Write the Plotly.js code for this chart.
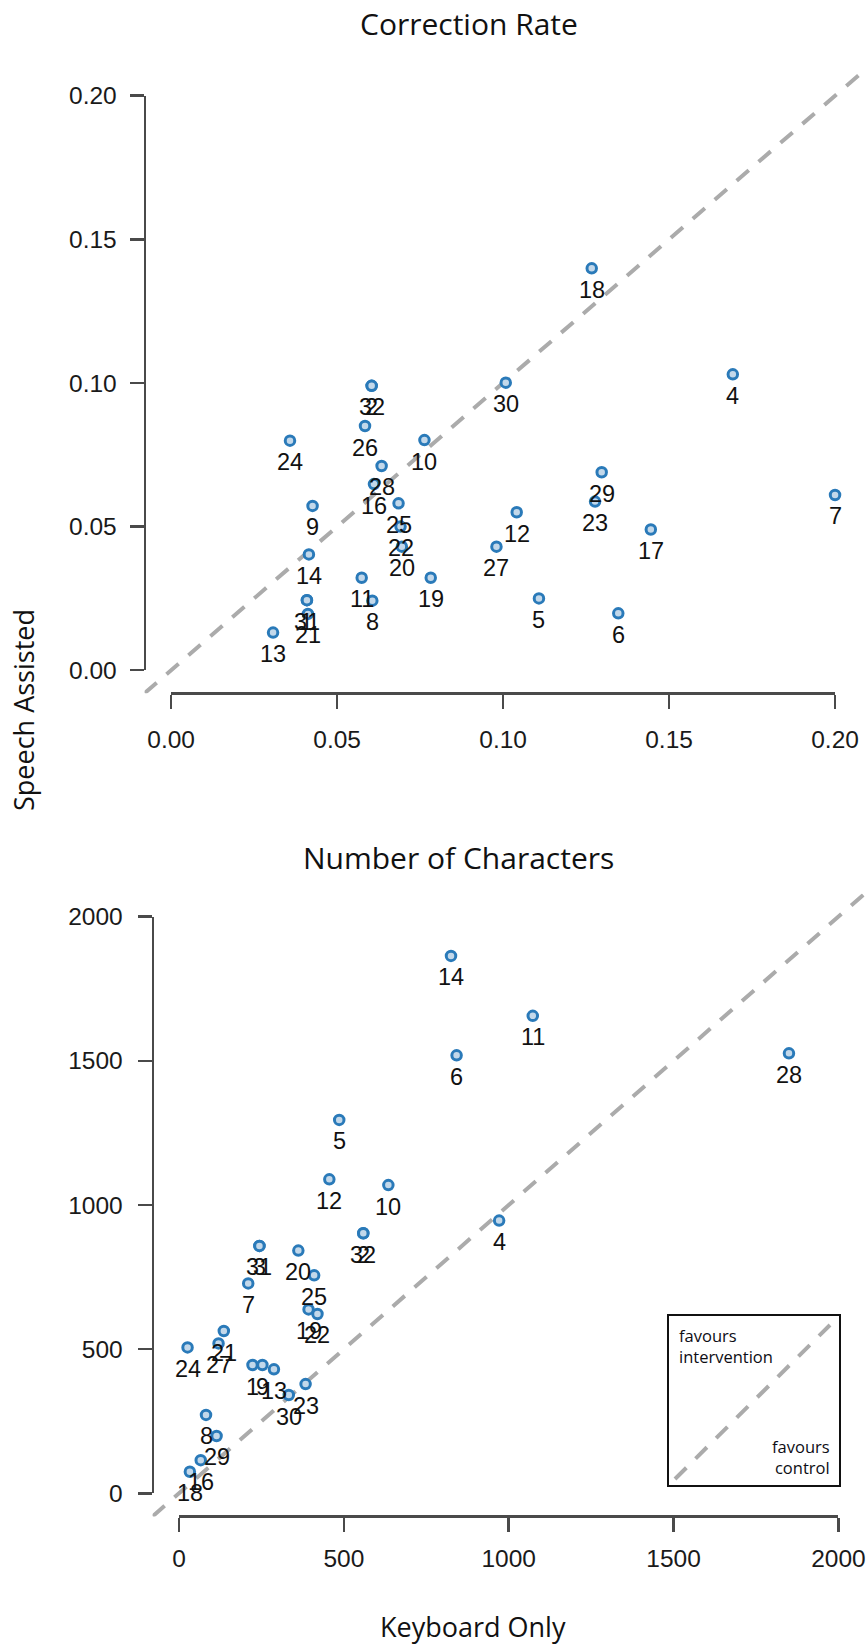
<!DOCTYPE html>
<html><head><meta charset="utf-8">
<script src="https://cdn.plot.ly/plotly-3.0.1.min.js"></script>
<style>html,body{margin:0;padding:0;background:#fff;} #chart{width:868px;height:1645px;}</style>
</head><body><div id="chart"></div>
<script>
// ---------- Data: Correction Rate (top panel) ----------
const rateIds      = ["32","2","26","24","10","28","16","9","25","22","20","14","11","8","19","31","1","21","13","27","18","30","4","29","23","12","17","5","6","7"];
const rateKeyboard = [0.0604,0.0604,0.0584,0.0358,0.0763,0.0634,0.0611,0.0426,0.0685,0.0691,0.0695,0.0415,0.0574,0.0606,0.0782,0.0409,0.0409,0.0412,0.0307,0.0980,0.1267,0.1008,0.1692,0.1297,0.1277,0.1041,0.1445,0.1108,0.1347,0.2000];
const rateSpeech   = [0.0990,0.0990,0.0850,0.0799,0.0801,0.0711,0.0648,0.0572,0.0581,0.0500,0.0430,0.0403,0.0322,0.0242,0.0322,0.0244,0.0244,0.0196,0.0131,0.0430,0.1399,0.1001,0.1030,0.0689,0.0587,0.0550,0.0490,0.0250,0.0198,0.0610];
const rateTicks    = [0, 0.05, 0.10, 0.15, 0.20];
const rateTickText = ["0.00","0.05","0.10","0.15","0.20"];
const rateRange    = [-0.008, 0.208];

// ---------- Data: Number of Characters (bottom panel) ----------
const charIds      = ["31","3","32","2","4","5","6","7","8","1","9","10","11","12","13","14","16","18","19","20","21","22","23","24","25","27","28","29","30"];
const charKeyboard = [244,244,559,559,971,486,842,210,82,223,253,635,1073,456,288,825,66,33,393,362,136,420,384,26,410,120,1850,114,333];
const charSpeech   = [858,858,902,902,946,1295,1519,728,272,445,445,1069,1656,1089,430,1864,115,75,638,842,563,622,379,506,756,520,1526,199,341];
const charTicks    = [0, 500, 1000, 1500, 2000];
const charTickText = ["0","500","1000","1500","2000"];
const charRange    = [-80, 2080];

// ---------- Text ----------
const titleTop = "Correction Rate";
const titleBottom = "Number of Characters";
const yTitle = "Speech Assisted";
const xTitle = "Keyboard Only";

// ---------- Geometry ----------
const W = 868, H = 1645;
const fx = px => px / W;
const fy = py => 1 - py / H;
const topReg = {l:144.6, r:861.6, t:72.7, b:693.2};
const botReg = {l:152.6, r:864.8, t:893.6, b:1516.4};
function subDomain(dom, range, v0, v1){
  const k = (dom[1]-dom[0])/(range[1]-range[0]);
  return [dom[0] + (v0-range[0])*k, dom[0] + (v1-range[0])*k];
}
const topX = [fx(topReg.l), fx(topReg.r)], topY = [fy(topReg.b), fy(topReg.t)];
const botX = [fx(botReg.l), fx(botReg.r)], botY = [fy(botReg.b), fy(botReg.t)];

const tickFont = {family:'"Liberation Sans", Arial, sans-serif', size:24.5, color:'#1a1a1a'};
const labelFont = {family:'"Liberation Sans", Arial, sans-serif', size:23.5, color:'#111111'};
const titleFont = {family:'"Open Sans", "Noto Sans", sans-serif', size:30, color:'#111111'};
const axTitleFont = {family:'"Open Sans", "Noto Sans", sans-serif', size:27, color:'#111111'};
const axLine = '#4a4a4a';
const dispAxis = {showgrid:false, zeroline:false, showline:true, linecolor:axLine, linewidth:2.5,
  ticks:'outside', ticklen:14, tickwidth:2.5, tickcolor:axLine, tickfont:tickFont, fixedrange:true, tickmode:'array'};
const hidden = {visible:false, showgrid:false, zeroline:false, fixedrange:true};

const markerStyle = {symbol:'circle', size:9.5, color:'#c3d8ea', line:{color:'#2a7ab9', width:3}};
const refLine = {color:'#ababab', width:4, dash:'16px,13px'};

const traces = [
  {type:'scatter', mode:'lines', x:rateRange, y:rateRange, xaxis:'x', yaxis:'y', line:refLine, hoverinfo:'skip'},
  {type:'scatter', mode:'markers', x:rateKeyboard, y:rateSpeech, xaxis:'x', yaxis:'y', marker:markerStyle, cliponaxis:false},
  {type:'scatter', mode:'lines', x:charRange, y:charRange, xaxis:'x2', yaxis:'y2', line:refLine, hoverinfo:'skip'},
  {type:'scatter', mode:'markers', x:charKeyboard, y:charSpeech, xaxis:'x2', yaxis:'y2', marker:markerStyle, cliponaxis:false},
  {type:'scatter', x:[], y:[], xaxis:'x3', yaxis:'y3', hoverinfo:'skip'},
  {type:'scatter', x:[], y:[], xaxis:'x4', yaxis:'y4', hoverinfo:'skip'}
];

const labelShift = -21.5;
const annotations = [];
rateIds.forEach((id,i) => annotations.push({xref:'x', yref:'y', x:rateKeyboard[i], y:rateSpeech[i], text:id,
  showarrow:false, xanchor:'center', yanchor:'middle', yshift:labelShift, font:labelFont}));
charIds.forEach((id,i) => annotations.push({xref:'x2', yref:'y2', x:charKeyboard[i], y:charSpeech[i], text:id,
  showarrow:false, xanchor:'center', yanchor:'middle', yshift:labelShift, font:labelFont}));

annotations.push(
  {xref:'paper', yref:'paper', x:fx(469), y:fy(24), text:titleTop, showarrow:false, xanchor:'center', yanchor:'middle', font:titleFont},
  {xref:'paper', yref:'paper', x:fx(459), y:fy(857), text:titleBottom, showarrow:false, xanchor:'center', yanchor:'middle', font:titleFont},
  {xref:'paper', yref:'paper', x:fx(23), y:fy(710), text:yTitle, textangle:-90, showarrow:false, xanchor:'center', yanchor:'middle', font:axTitleFont},
  {xref:'paper', yref:'paper', x:fx(473), y:fy(1626), text:xTitle, showarrow:false, xanchor:'center', yanchor:'middle', font:axTitleFont},
  {xref:'paper', yref:'paper', x:fx(677), y:fy(1322), text:'favours<br>intervention', align:'left', showarrow:false, xanchor:'left', yanchor:'top',
    font:{family:'"Open Sans", "Noto Sans", sans-serif', size:16.5, color:'#0d0d14'}},
  {xref:'paper', yref:'paper', x:fx(832), y:fy(1481), text:'favours<br>control', align:'right', showarrow:false, xanchor:'right', yanchor:'bottom',
    font:{family:'"Open Sans", "Noto Sans", sans-serif', size:16.5, color:'#0d0d14'}}
);

const shapes = [
  {type:'rect', xref:'paper', yref:'paper', x0:fx(668), x1:fx(840), y0:fy(1486), y1:fy(1315), line:{color:'#111111', width:2}, fillcolor:'rgba(0,0,0,0)'},
  {type:'line', xref:'paper', yref:'paper', x0:fx(675), y0:fy(1479), x1:fx(830), y1:fy(1325), line:refLine}
];

const layout = {
  width:W, height:H, margin:{l:0,r:0,t:0,b:0}, paper_bgcolor:'#ffffff', plot_bgcolor:'rgba(0,0,0,0)',
  showlegend:false, hovermode:false,
  xaxis: Object.assign({}, hidden, {domain:topX, range:rateRange, anchor:'y'}),
  yaxis: Object.assign({}, hidden, {domain:topY, range:rateRange, anchor:'x'}),
  xaxis2: Object.assign({}, hidden, {domain:botX, range:charRange, anchor:'y2'}),
  yaxis2: Object.assign({}, hidden, {domain:botY, range:charRange, anchor:'x2'}),
  xaxis3: Object.assign({}, dispAxis, {domain:subDomain(topX, rateRange, 0, 0.2), range:[0,0.2], anchor:'free', position:fy(topReg.b),
    side:'bottom', tickvals:rateTicks, ticktext:rateTickText, ticklabelstandoff:10}),
  yaxis3: Object.assign({}, dispAxis, {domain:subDomain(topY, rateRange, 0, 0.2), range:[0,0.2], anchor:'free', position:fx(topReg.l),
    side:'left', tickvals:rateTicks, ticktext:rateTickText, ticklabelstandoff:8}),
  xaxis4: Object.assign({}, dispAxis, {domain:subDomain(botX, charRange, 0, 2000), range:[0,2000], anchor:'free', position:fy(botReg.b),
    side:'bottom', tickvals:charTicks, ticktext:charTickText, ticklabelstandoff:6}),
  yaxis4: Object.assign({}, dispAxis, {domain:subDomain(botY, charRange, 0, 2000), range:[0,2000], anchor:'free', position:fx(botReg.l),
    side:'left', tickvals:charTicks, ticktext:charTickText, ticklabelstandoff:10}),
  annotations, shapes
};

Plotly.newPlot('chart', traces, layout, {displayModeBar:false, staticPlot:true});
</script>
</body></html>
